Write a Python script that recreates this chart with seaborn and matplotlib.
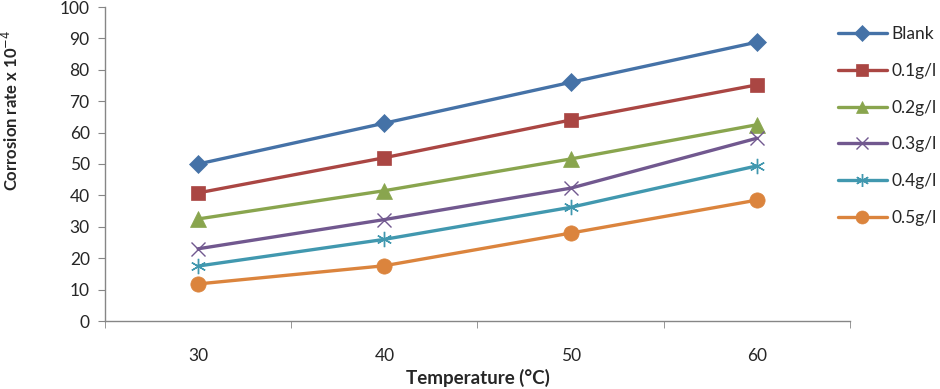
import numpy as np
import pandas as pd
import matplotlib
matplotlib.use("Agg")
import matplotlib.pyplot as plt
import seaborn as sns

temps = ["30", "40", "50", "60"]
blank = [50, 63, 76, 88.8]
c01 = [40.8, 52, 64, 75.2]
c02 = [32.5, 41.5, 51.6, 62.5]
c03 = [23, 32.3, 42.3, 58.2]
c04 = [17.5, 26, 36.2, 49.4]
c05 = [11.8, 17.6, 28, 38.5]

labels = ["Blank", "0.1g/l", "0.2g/l", "0.3g/l", "0.4g/l", "0.5g/l"]
series = [blank, c01, c02, c03, c04, c05]
colors = ["#4572A7", "#AA4643", "#89A54E", "#71588F", "#4198AF", "#DB843D"]
markers = ["D", "s", "^", "x", (6, 2, 0), "o"]
msizes = [9, 10, 11, 10, 11, 11]

df = pd.DataFrame({
    "Temperature": temps * len(labels),
    "rate": np.concatenate(series),
    "conc": np.repeat(labels, len(temps)),
})

sns.set_style("white")
plt.rcParams["font.family"] = ["Lato", "DejaVu Sans"]

fig = plt.figure(figsize=(9.4, 3.89), dpi=100)
ax = fig.add_axes([105 / 940, 1 - 321 / 389, 745 / 940, 314 / 389])

for lab, col, mk, ms in zip(labels, colors, markers, msizes):
    sub = df[df["conc"] == lab]
    sns.lineplot(data=sub, x="Temperature", y="rate", ax=ax, color=col,
                 marker=mk, markersize=ms, linewidth=2.4, label=lab,
                 markeredgecolor=col, markeredgewidth=1.0 if mk in ("x", (6, 2, 0)) else 0.5)

ax.set_xlim(-0.5, 3.5)
ax.set_ylim(0, 100)
ax.set_yticks(range(0, 101, 10))
ax.set_xticks(range(4))
ax.set_xticklabels(temps)
ax.set_xticks(np.arange(-0.5, 4, 1), minor=True)

for s in ["top", "right"]:
    ax.spines[s].set_visible(False)
for s in ["left", "bottom"]:
    ax.spines[s].set_color("#868686")
    ax.spines[s].set_linewidth(1)

ax.tick_params(axis="y", which="major", left=True, length=5, color="#868686",
               labelsize=12.5, pad=6)
ax.tick_params(axis="x", which="major", bottom=False, labelsize=12.5, pad=16)
ax.tick_params(axis="x", which="minor", bottom=True, length=5, color="#868686")

ax.set_xlabel("Temperature (\u00b0C)", fontsize=13.5, fontweight="bold")
ax.xaxis.set_label_coords(0.5, (321 - 369) / 314)
ax.set_ylabel("Corrosion rate x 10$^{-4}$", fontsize=12, fontweight="bold")
ax.yaxis.set_label_coords((21 - 105) / 745, (321 - 110) / 314)

leg = ax.legend(loc="upper left", bbox_to_anchor=(838 / 940, 1 - 26 / 389),
                bbox_transform=fig.transFigure, frameon=False, fontsize=12.5,
                handlelength=2.8, handletextpad=0.3, labelspacing=1.2,
                borderaxespad=0, borderpad=0, markerscale=0.85)

fig.savefig("out.png", dpi=100)
